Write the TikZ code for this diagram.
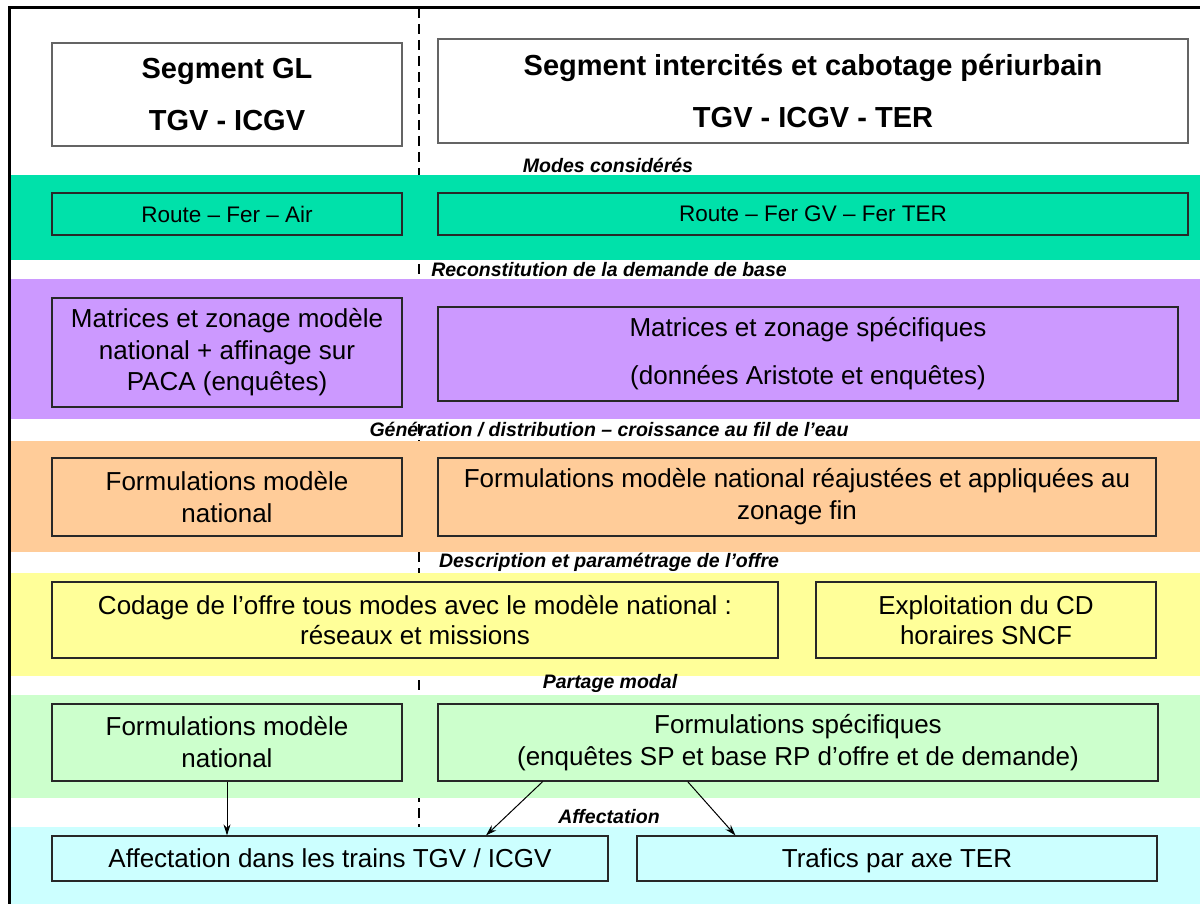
\documentclass[tikz,border=0pt]{standalone}
\usepackage{fontspec}
\setmainfont{Liberation Sans}
\usetikzlibrary{calc,arrows.meta}

\definecolor{bandgreen}{RGB}{0,225,170}
\definecolor{bandpurple}{RGB}{204,153,255}
\definecolor{bandorange}{RGB}{255,204,153}
\definecolor{bandyellow}{RGB}{255,255,153}
\definecolor{bandlight}{RGB}{204,255,204}
\definecolor{bandcyan}{RGB}{204,255,255}
\definecolor{framegray}{RGB}{100,100,100}
\definecolor{boxline}{RGB}{40,40,40}

\begin{document}
\begin{tikzpicture}[
	x=1pt, y=-1pt,
	segment/.style={draw=framegray, line width=1.2pt, fill=white, inner sep=0pt, align=center, font=\fontsize{29}{35}\selectfont\bfseries},
	box/.style={draw=boxline, line width=1.2pt, inner sep=0pt, align=center, font=\fontsize{26}{32}\selectfont},
	oneline/.style={box, text depth=0pt},
	smallbox/.style={oneline, font=\fontsize{22.5}{27}\selectfont},
	stage/.style={inner sep=0pt, font=\fontsize{19.5}{23}\selectfont\bfseries\itshape},
	connection/.style={-{Stealth[length=11pt, width=7pt]}, line width=1pt}
	]
	
	\useasboundingbox (0,0) rectangle (1200,904);
	\fill[white] (0,0) rectangle (1200,904);
	
	% Separator between the two segments
	\draw[line width=2pt, dash pattern=on 10pt off 6pt] (419,8) -- (419,827);
	
	% Coloured bands
	\foreach \ya/\yb/\col in {175/260/bandgreen, 279/419/bandpurple, 441/552/bandorange, 573/676/bandyellow, 695/798/bandlight, 827/904/bandcyan}
		\fill[\col] (10,\ya) rectangle (1200,\yb);
	
	% Frame
	\draw[line width=3pt] (9,904) -- (9,8) -- (1200,8);
	
	% Segments
	\node[segment, minimum width=350pt, minimum height=103pt] (hgl) at (227,94.5) {Segment GL\\[17pt]TGV - ICGV};
	\node[segment, minimum width=750pt, minimum height=104pt] (hgr) at (813,91) {Segment intercités et cabotage périurbain\\[17pt]TGV - ICGV - TER};
	
	% Modes
	\node[stage] (lmodes) at (608,165) {Modes considérés};
	\node[smallbox, minimum width=350pt, minimum height=42pt] (mgl) at (227,214) {Route – Fer – Air};
	\node[smallbox, minimum width=750pt, minimum height=42pt] (mgr) at (813,214) {Route – Fer GV – Fer TER};
	
	% Demande de base
	\node[stage] (lbase) at (609,270) {Reconstitution de la demande de base};
	\node[box, font=\fontsize{26}{31.5}\selectfont, minimum width=350pt, minimum height=109pt] (dgl) at (227,352.5) {Matrices et zonage modèle\\national + affinage sur\\PACA (enquêtes)};
	\node[box, minimum width=740pt, minimum height=94pt] (dgr) at (808,354) {Matrices et zonage spécifiques\\[16pt](données Aristote et enquêtes)};
	
	% Generation / distribution
	\node[stage] (lgen) at (609,430) {Génération / distribution – croissance au fil de l’eau};
	\node[box, minimum width=350pt, minimum height=78pt] (ggl) at (227,497) {Formulations modèle\\national};
	\node[box, minimum width=718pt, minimum height=78pt] (ggr) at (797,497) {Formulations modèle national réajustées et appliquées au\\zonage fin};
	
	% Offre
	\node[stage] (loffre) at (609,562) {Description et paramétrage de l’offre};
	\node[box, font=\fontsize{26}{30}\selectfont, minimum width=726pt, minimum height=76pt] (ogl) at (415,620) {Codage de l’offre tous modes avec le modèle national :\\réseaux et missions};
	\node[box, font=\fontsize{26}{30}\selectfont, minimum width=340pt, minimum height=76pt] (ogr) at (986,620) {Exploitation du CD\\horaires SNCF};
	
	% Partage modal
	\node[stage] (lpartage) at (610,683) {Partage modal};
	\node[box, minimum width=350pt, minimum height=77pt] (pgl) at (227,742.5) {Formulations modèle\\national};
	\node[box, minimum width=720pt, minimum height=77pt] (pgr) at (798,742.5) {Formulations spécifiques\\(enquêtes SP et base RP d’offre et de demande)};
	
	% Affectation
	\node[stage] (laffect) at (609,817) {Affectation};
	\node[oneline, minimum width=556pt, minimum height=45pt] (agl) at (330,858.5) {Affectation dans les trains TGV / ICGV};
	\node[oneline, minimum width=520pt, minimum height=45pt] (agr) at (897,858.5) {Trafics par axe TER};
	
	% Arrows
	\draw[connection] (pgl.south) -- (pgl.south |- agl.north);
	\draw[connection] ($(pgr.south west)!0.146!(pgr.south east)$) -- ($(agl.north west)!0.78!(agl.north east)$);
	\draw[connection] ($(pgr.south west)!0.347!(pgr.south east)$) -- ($(agr.north west)!0.19!(agr.north east)$);
	
\end{tikzpicture}
\end{document}
